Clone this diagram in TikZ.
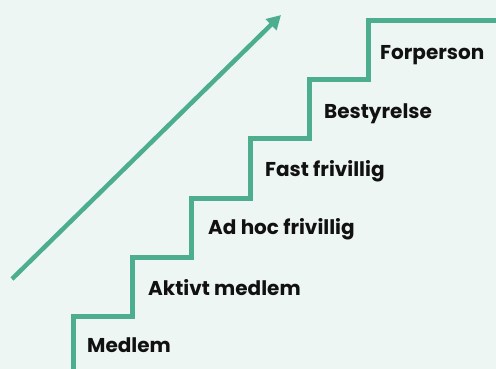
\documentclass[tikz,border=0pt]{standalone}
\usepackage{fontspec}
\setmainfont{Poppins}
\usetikzlibrary{arrows.meta}
\definecolor{bgmint}{HTML}{EEF6F4}
\definecolor{stairgreen}{HTML}{4DAE8F}
\definecolor{labelink}{HTML}{111111}
\tikzset{
  stairline/.style={draw=stairgreen, line width=5pt, line join=miter},
  growarrow/.style={draw=stairgreen, line width=4.5pt, -{Triangle[length=14pt,width=15pt]}},
  steplabel/.style={anchor=base west, inner sep=0pt, font=\fontsize{20}{22}\selectfont\bfseries, text=labelink},
}
\begin{document}
\begin{tikzpicture}[x=1pt,y=-1pt]
  \fill[bgmint] (0,0) rectangle (496,369);
  \useasboundingbox (0,0) rectangle (496,369);
  % staircase corners
  \coordinate (s0) at (73,372);
  \coordinate (s1) at (73,316);
  \coordinate (s2) at (132,316);
  \coordinate (s3) at (132,257);
  \coordinate (s4) at (191,257);
  \coordinate (s5) at (191,198);
  \coordinate (s6) at (250,198);
  \coordinate (s7) at (250,139);
  \coordinate (s8) at (309,139);
  \coordinate (s9) at (309,80);
  \coordinate (s10) at (368,80);
  \coordinate (s11) at (368,21);
  \coordinate (s12) at (499,21);
  \draw[stairline] (s0) -- (s1) -- (s2) -- (s3) -- (s4) -- (s5) -- (s6) -- (s7) -- (s8) -- (s9) -- (s10) -- (s11) -- (s12);
  % rising arrow
  \coordinate (a0) at (12,279);
  \coordinate (a1) at (281,15);
  \draw[growarrow] (a0) -- (a1);
  % step labels
  \node[steplabel] (l1) at (87,352.5) {Medlem};
  \node[steplabel] (l2) at (148,295.5) {Aktivt medlem};
  \node[steplabel] (l3) at (208,234) {Ad hoc frivillig};
  \node[steplabel] (l4) at (265,176) {Fast frivillig};
  \node[steplabel] (l5) at (324,118) {Bestyrelse};
  \node[steplabel] (l6) at (380,60) {Forperson};
\end{tikzpicture}
\end{document}
